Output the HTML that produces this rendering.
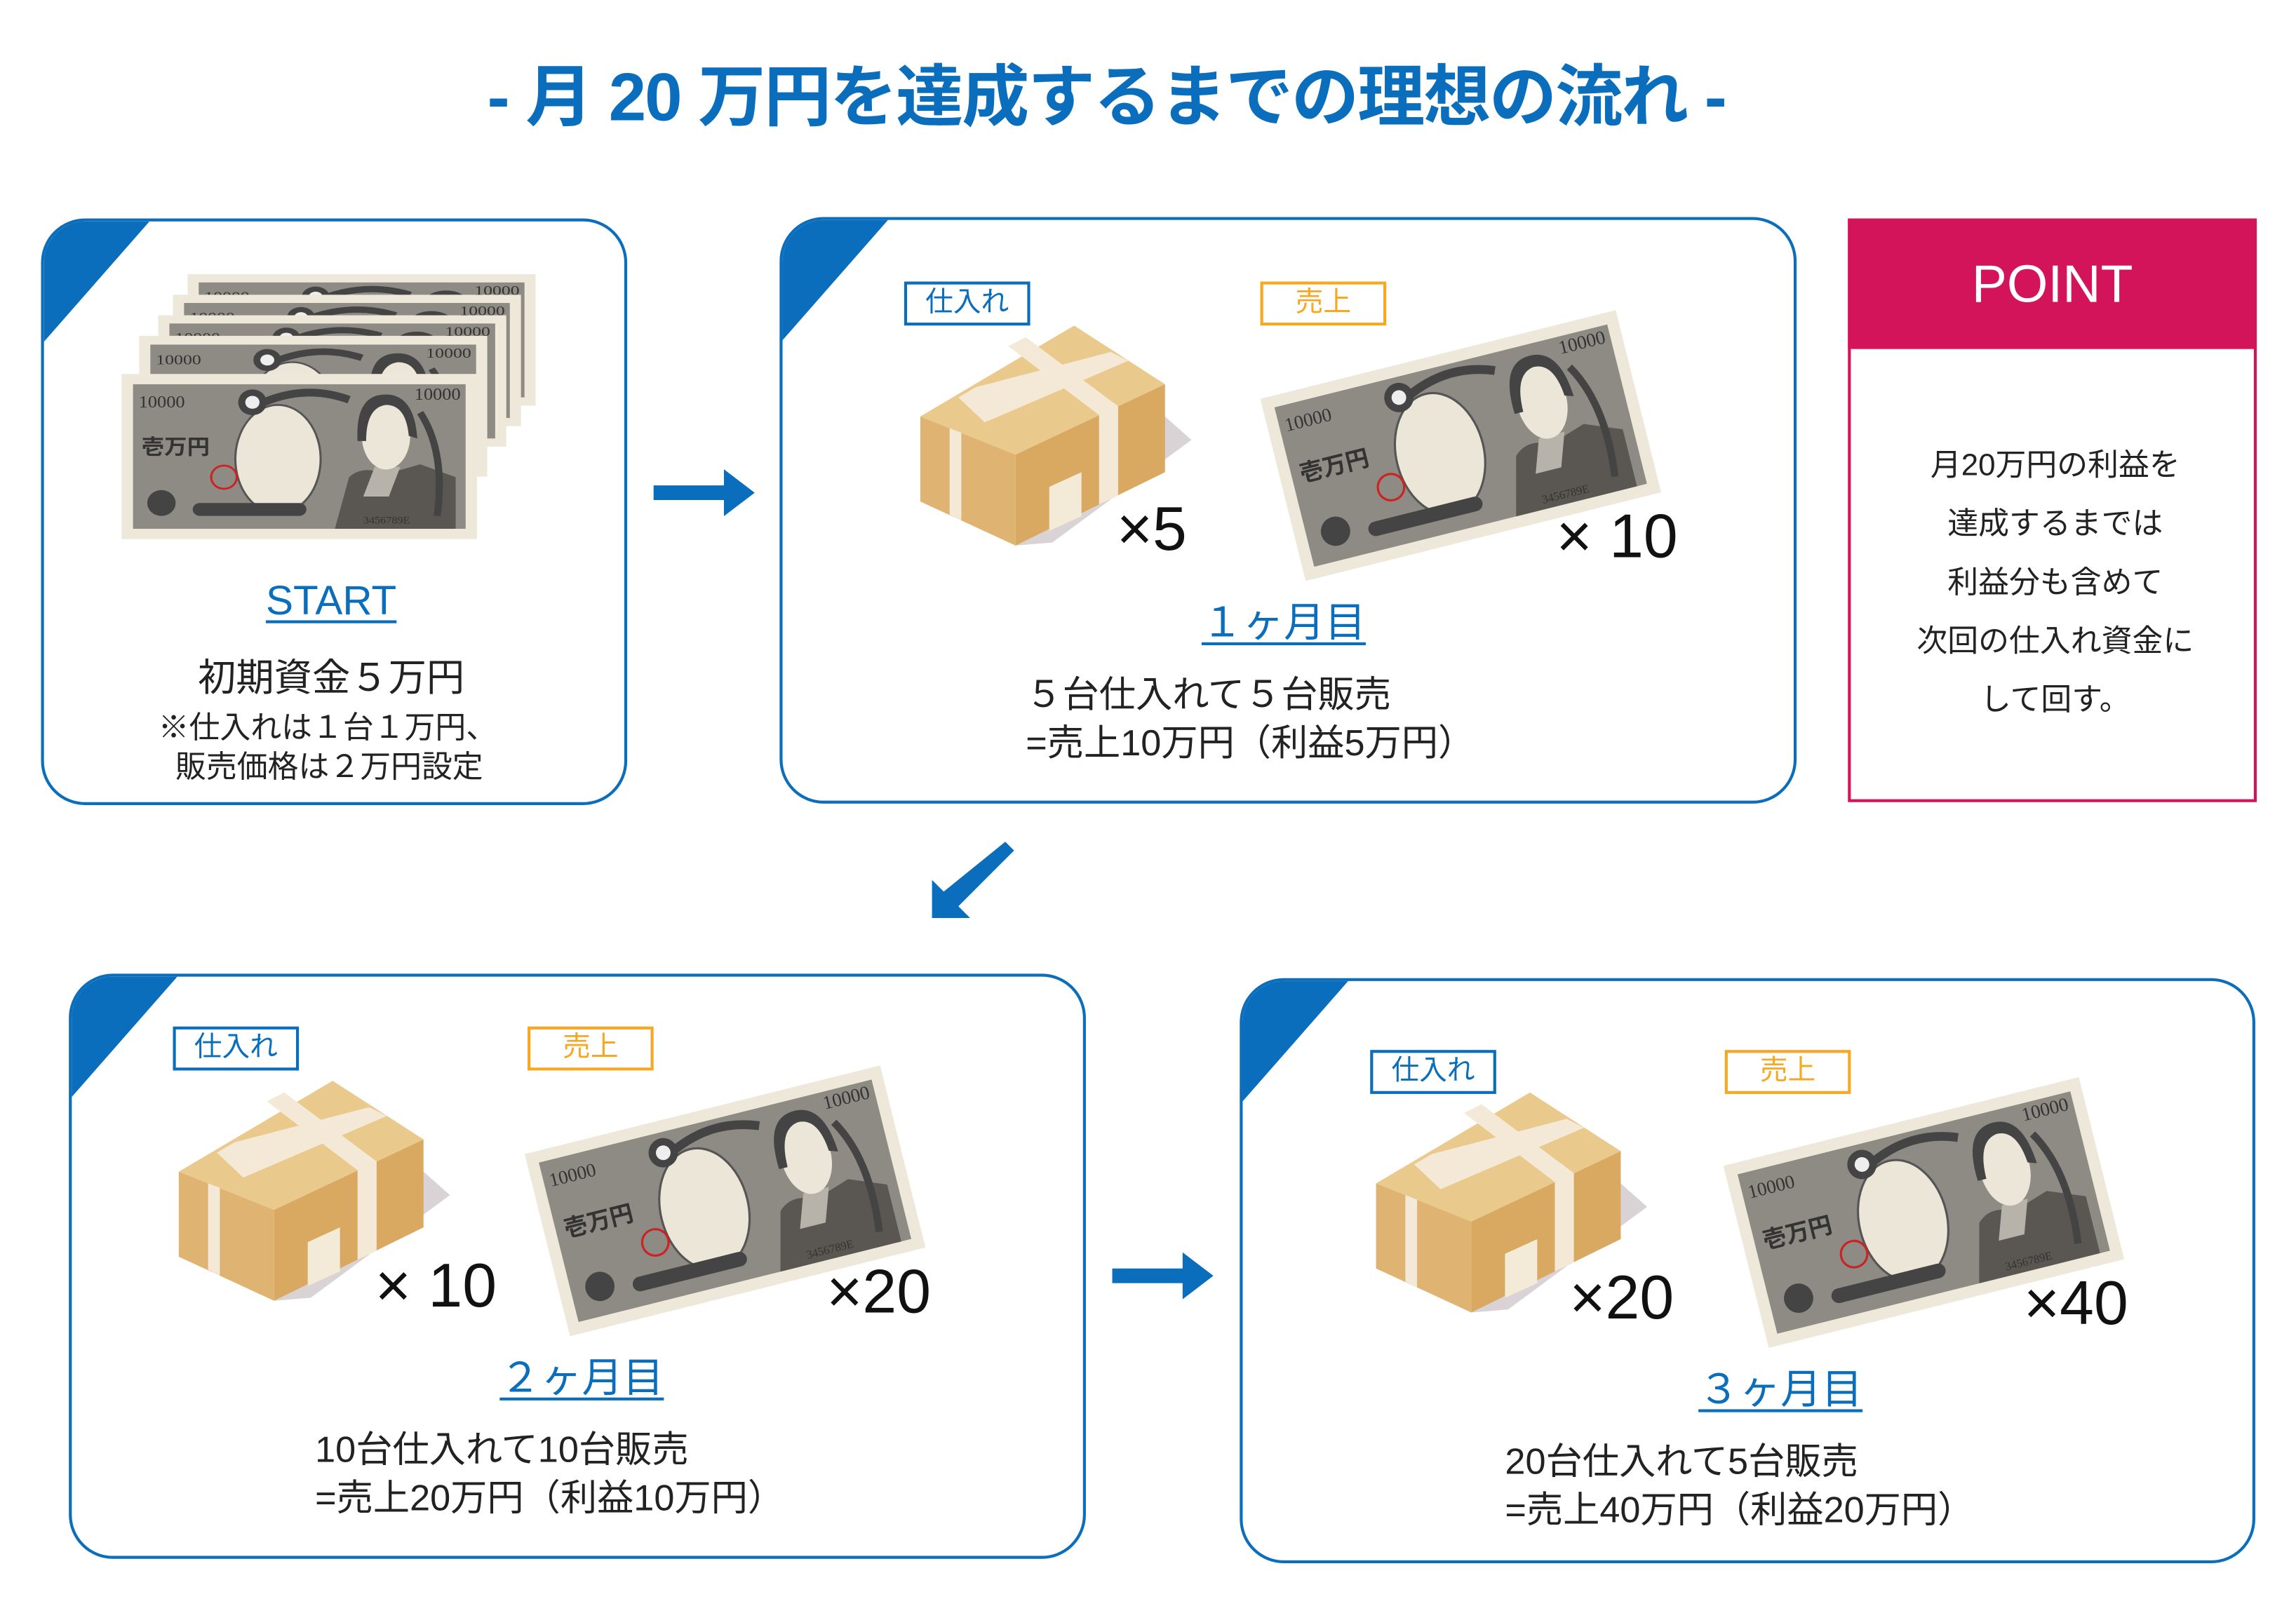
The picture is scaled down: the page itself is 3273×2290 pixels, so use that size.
<!DOCTYPE html>
<html><head><meta charset="utf-8">
<style>
html,body{margin:0;padding:0;background:#fff;}
body{width:3273px;height:2284px;overflow:hidden;position:relative;}
#w{position:absolute;left:0;top:0;width:1570px;height:1095px;transform:scale(2.089,2.091);transform-origin:0 0;font-family:"Liberation Sans","Noto Sans CJK JP",sans-serif;color:#222;}
.a{position:absolute;}
.card{position:absolute;border:2.5px solid #0a6ebd;border-radius:30px;box-sizing:border-box;overflow:hidden;background:#fff;}
.tri{position:absolute;left:0;top:0;width:0;height:0;border-top:82px solid #0a6ebd;border-right:72px solid transparent;}
.lbl{position:absolute;width:86px;height:30px;box-sizing:border-box;border:2px solid #0a6ebd;color:#0a6ebd;font-size:19px;line-height:26px;text-align:center;}
.lbl.o{border-color:#f7a823;color:#f7a823;}
.mon{position:absolute;color:#0a6ebd;font-size:28px;text-decoration:underline;text-underline-offset:4px;transform:translateX(-50%);white-space:nowrap;}
.mul{position:absolute;font-size:42px;color:#111;white-space:nowrap;line-height:1;}
.txt{position:absolute;font-size:25px;line-height:33px;white-space:nowrap;color:#222;}
svg{position:absolute;overflow:visible;}
</style></head><body><div id="w">
<svg width="0" height="0" style="position:absolute">
<defs>
<g id="bill">
<rect x="0" y="0" width="250" height="128" fill="#eee8da"/>
<rect x="8" y="8" width="234" height="112" fill="#8e8a84"/>
<ellipse cx="110" cy="66" rx="30" ry="42" fill="#ece6d8" stroke="#555" stroke-width="1.5"/>
<path d="M150 120 L160 80 Q170 70 185 78 L210 70 L235 80 L235 120 Z" fill="#5a5752"/>
<path d="M170 95 L178 72 L196 72 L188 95 Z" fill="#b8b3aa"/>
<ellipse cx="186" cy="48" rx="17" ry="26" fill="#ece6d8"/>
<path d="M166 52 Q164 14 188 16 Q206 18 208 50 L202 48 Q200 24 186 24 Q172 26 172 52 Z" fill="#444"/>
<path d="M210 30 Q228 60 222 110" stroke="#444" stroke-width="5" fill="none"/>
<path d="M100 22 Q130 8 160 20" stroke="#444" stroke-width="6" fill="none"/>
<circle cx="92" cy="22" r="10" fill="#444"/><circle cx="92" cy="22" r="5" fill="#eee"/>
<rect x="50" y="100" width="80" height="10" rx="5" fill="#444"/>
<circle cx="28" cy="100" r="10" fill="#444"/>
<circle cx="72" cy="80" r="9" fill="none" stroke="#c22" stroke-width="1.5"/>
<text x="12" y="26" font-family="Liberation Serif,serif" font-size="13" fill="#333">10000</text>
<text x="206" y="20" font-family="Liberation Serif,serif" font-size="13" fill="#333">10000</text>
<text x="14" y="62" font-family="Liberation Sans,Noto Sans CJK JP,sans-serif" font-size="16" font-weight="bold" fill="#333">壱万円</text>
<text x="170" y="116" font-family="Liberation Serif,serif" font-size="8" fill="#333">3456789E</text>
</g>
<g id="box">
<polygon points="167,62 185,78 90,148 65,150" fill="#c9c0c4" opacity="0.7"/>
<polygon points="0,62 105,0 167,40 65,88" fill="#eac98c"/>
<polygon points="0,62 65,88 65,150 0,120" fill="#dfb472"/>
<polygon points="65,88 167,40 167,100 65,150" fill="#d9a961"/>
<polygon points="26,49 38,42 130,18 142,24 44,66" fill="#f4e9d6"/>
<polygon points="60,14 72,8 135,55 122,61" fill="#f4e9d6"/>
<polygon points="122,61 135,55 135,116 122,122" fill="#f4e9d6"/>
<polygon points="20,70 28,73 28,133 20,129" fill="#f4e9d6"/>
<polygon points="88,110 110,100 110,130 88,140" fill="#f3ead7"/>
</g>
</defs></svg>

<div class="a" style="left:0;width:1510px;top:30px;text-align:center;color:#0a6ebd;font-size:46px;font-weight:bold;letter-spacing:-1px;">- 月 20 万円を達成するまでの理想の流れ -</div>

<div class="card" style="left:28px;top:149px;width:400px;height:400px;"><div class="tri"></div></div>
<svg style="left:83px;top:187px" width="290" height="185">
<use href="#bill" transform="translate(45,0) scale(0.95,0.7)"/>
<use href="#bill" transform="translate(35,14) scale(0.95,0.7)"/>
<use href="#bill" transform="translate(25,28) scale(0.95,0.7)"/>
<use href="#bill" transform="translate(12,42) scale(0.95,0.75)"/>
<use href="#bill" transform="translate(0,68) scale(0.97,0.88)"/>
</svg>
<div class="mon" style="left:226px;top:394px;">START</div>
<div class="txt" style="left:226px;top:446px;transform:translateX(-50%);font-size:26px;">初期資金５万円</div>
<div class="txt" style="left:108px;top:483px;font-size:21px;line-height:27px;">※仕入れは１台１万円、<br>&nbsp;&nbsp;販売価格は２万円設定</div>

<svg style="left:446px;top:318px" width="70" height="36"><polygon points="0,13 48,13 48,2 69,18 48,34 48,23 0,23" fill="#0a6ebd"/></svg>

<div class="card" style="left:532px;top:148px;width:694px;height:400px;"><div class="tri"></div></div>
<div class="lbl" style="left:617px;top:192px;">仕入れ</div>
<div class="lbl o" style="left:860px;top:192px;">売上</div>
<svg style="left:628px;top:222px" width="170" height="150"><use href="#box"/></svg>
<svg style="left:860px;top:212px" width="260" height="160"><use href="#bill" transform="translate(0,60) rotate(-14) scale(1.0,1.0)"/></svg>
<div class="mul" style="left:762px;top:340px;">×5</div>
<div class="mul" style="left:1062px;top:345px;">× 10</div>
<div class="mon" style="left:876px;top:403px;">１ヶ月目</div>
<div class="txt" style="left:700px;top:458px;">５台仕入れて５台販売<br>=売上10万円（利益5万円）</div>

<div class="a" style="left:1261px;top:149px;width:279px;height:398px;border:2.5px solid #d4145a;box-sizing:border-box;"></div>
<div class="a" style="left:1261px;top:149px;width:279px;height:89px;background:#d4145a;color:#fff;font-size:36px;line-height:89px;text-align:center;">POINT</div>
<div class="a" style="left:1263px;top:298px;width:279px;text-align:center;font-size:21px;line-height:40px;color:#222;">月20万円の利益を<br>達成するまでは<br>利益分も含めて<br>次回の仕入れ資金に<br>して回す。</div>

<svg style="left:630px;top:570px" width="64" height="62"><polygon points="56,4 62,10 24,48 32,56 6,56 6,30 14,38" fill="#0a6ebd"/></svg>

<div class="card" style="left:47px;top:664px;width:694px;height:399px;"><div class="tri"></div></div>
<div class="lbl" style="left:118px;top:700px;">仕入れ</div>
<div class="lbl o" style="left:360px;top:700px;">売上</div>
<svg style="left:122px;top:737px" width="170" height="150"><use href="#box"/></svg>
<svg style="left:358px;top:727px" width="260" height="160"><use href="#bill" transform="translate(0,60) rotate(-14)"/></svg>
<div class="mul" style="left:256px;top:856px;">× 10</div>
<div class="mul" style="left:564px;top:860px;">×20</div>
<div class="mon" style="left:397px;top:918px;">２ヶ月目</div>
<div class="txt" style="left:215px;top:973px;">10台仕入れて10台販売<br>=売上20万円（利益10万円）</div>

<svg style="left:759px;top:852px" width="70" height="36"><polygon points="0,13 48,13 48,2 69,18 48,34 48,23 0,23" fill="#0a6ebd"/></svg>

<div class="card" style="left:846px;top:667px;width:693px;height:399px;"><div class="tri"></div></div>
<div class="lbl" style="left:935px;top:716px;">仕入れ</div>
<div class="lbl o" style="left:1177px;top:716px;">売上</div>
<svg style="left:939px;top:745px" width="170" height="150"><use href="#box"/></svg>
<svg style="left:1176px;top:735px" width="260" height="160"><use href="#bill" transform="translate(0,60) rotate(-14)"/></svg>
<div class="mul" style="left:1071px;top:864px;">×20</div>
<div class="mul" style="left:1381px;top:868px;">×40</div>
<div class="mon" style="left:1215px;top:926px;">３ヶ月目</div>
<div class="txt" style="left:1027px;top:981px;">20台仕入れて5台販売<br>=売上40万円（利益20万円）</div>

</div></body></html>
